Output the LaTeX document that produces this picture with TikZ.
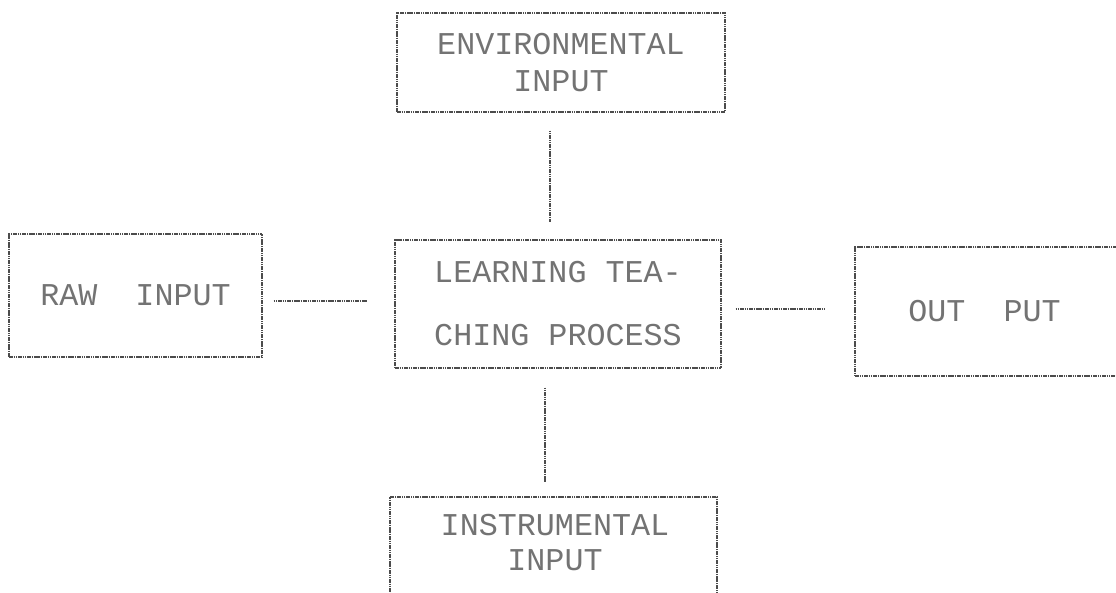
\documentclass[tikz,border=0pt]{standalone}
\usepackage{fontspec}
\newfontfamily\dotfont{Liberation Mono}
\usepackage{tikz}

\begin{document}
\begin{tikzpicture}[x=0.75pt, y=-0.75pt,
  box/.style = {draw=black!70, line width=0.8pt, dash pattern=on 1.2pt off 0.5pt,
                text=black!55, align=center, inner sep=0pt,
                font={\dotfont\fontsize{23.8pt}{27.75pt}\selectfont}},
  link/.style = {draw=black!70, line width=0.8pt, dash pattern=on 1.2pt off 0.5pt}]
      \useasboundingbox (0,0) rectangle (1116,592);
      \node[box, minimum width=246pt, minimum height=74.25pt](env) at (561,62.5){ENVIRONMENTAL\\INPUT};
      \node[box, minimum width=244.5pt, minimum height=96pt](learn) at (558,304){LEARNING TEA-\\[19.5pt]CHING PROCESS};
      \node[box, minimum width=189.75pt, minimum height=92.25pt](raw) at (135.5,295.5){RAW~~INPUT};
      \node[box, minimum width=206.25pt, minimum height=96.75pt](out) at (992.5,311.5){\hspace*{-12pt}OUT~~PUT};
      \node[box, minimum width=245.25pt, minimum height=92.25pt](instr) at (553.5,558.5){};
      \node[box, draw=none, font={\dotfont\fontsize{23.8pt}{26.25pt}\selectfont}](instrtext) at (555,542.5){INSTRUMENTAL\\INPUT};
      \draw[link, shorten <=13.5pt, shorten >=13.5pt] ([xshift=-6pt]learn.north |- env.south) -- ([xshift=-6pt]learn.north);
      \draw[link, shorten <=14.25pt, shorten >=10.5pt] ([xshift=-9.75pt]learn.south) -- ([xshift=-9.75pt]learn.south |- instr.north);
      \draw[link, shorten <=8.25pt, shorten >=20.25pt] ([yshift=-4.1pt]raw.east) -- ([yshift=-4.1pt]raw.east -| learn.west);
      \draw[link, shorten <=10.5pt, shorten >=21.75pt] ([yshift=-3.75pt]learn.east) -- ([yshift=-3.75pt]learn.east -| out.west);
\end{tikzpicture}
\end{document}
